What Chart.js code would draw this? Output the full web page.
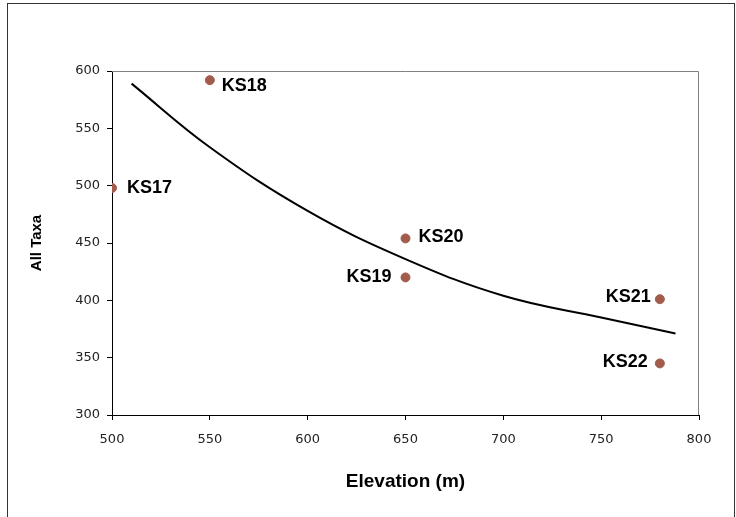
<!DOCTYPE html>
<html lang="en">
<head>
    <meta charset="UTF-8">
    <title>All Taxa vs Elevation</title>
    <script src="https://cdn.jsdelivr.net/npm/chart.js@4/dist/chart.umd.min.js"></script>
    <style>
        body {
            margin: 0;
            background-color: white;
        }
        .chart-container {
            width: 736px;
            height: 517px;
            position: relative;
        }
    </style>
</head>
<body>
    <div class="chart-container">
        <canvas id="taxaChart" width="736" height="517"></canvas>
    </div>

    <script>
        // Sites
        const siteLabels = ['KS17', 'KS18', 'KS19', 'KS20', 'KS21', 'KS22'];
        const elevation = [500, 550, 650, 650, 780, 780];
        const allTaxa = [498, 592, 420, 454, 401, 345];

        // Trend line
        const trendElevation = [510, 550, 600, 650, 700, 750, 788];
        const trendTaxa = [589, 533.5, 478, 436, 404, 385, 371];

        const xTicks = [500, 550, 600, 650, 700, 750, 800];
        const yTicks = [300, 350, 400, 450, 500, 550, 600];

        // where each site label sits relative to its point
        const labelPlacement = {
            KS17: { dx: 15, dy: 0, align: 'left' },
            KS18: { dx: 12, dy: 6, align: 'left' },
            KS19: { dx: -14, dy: 0, align: 'right' },
            KS20: { dx: 13, dy: -1, align: 'left' },
            KS21: { dx: -9, dy: -2, align: 'right' },
            KS22: { dx: -12, dy: -1, align: 'right' }
        };

        const pointColor = '#A15C4B';
        const tickFont = { family: '"DejaVu Sans", Arial, sans-serif', size: 13 };

        const frame = {
            id: 'frame',
            beforeDraw(chart) {
                const ctx = chart.ctx;
                ctx.save();
                ctx.strokeStyle = '#333';
                ctx.lineWidth = 1;
                ctx.strokeRect(7.5, 3.5, 727, 530);
                ctx.restore();
            },
            afterDraw(chart) {
                // grey top and right edges of the plot area
                const a = chart.chartArea;
                const ctx = chart.ctx;
                ctx.save();
                ctx.strokeStyle = '#808080';
                ctx.lineWidth = 1;
                ctx.beginPath();
                ctx.moveTo(a.left, a.top + 0.5);
                ctx.lineTo(a.right - 0.5, a.top + 0.5);
                ctx.lineTo(a.right - 0.5, a.bottom);
                ctx.stroke();
                ctx.restore();
            }
        };

        const siteLabelPlugin = {
            id: 'siteLabels',
            afterDatasetsDraw(chart) {
                const ctx = chart.ctx;
                ctx.save();
                ctx.font = 'bold 18px "Liberation Sans", Arial, sans-serif';
                ctx.fillStyle = '#000';
                ctx.textBaseline = 'middle';
                chart.getDatasetMeta(1).data.forEach((pt, i) => {
                    const name = siteLabels[i];
                    const p = labelPlacement[name];
                    ctx.textAlign = p.align;
                    ctx.fillText(name, pt.x + p.dx, pt.y + p.dy);
                });
                ctx.restore();
            }
        };

        const config = {
            type: 'scatter',
            data: {
                datasets: [
                    {
                        label: 'Trend',
                        data: trendElevation.map((x, i) => ({ x: x, y: trendTaxa[i] })),
                        showLine: true,
                        borderColor: '#000',
                        borderWidth: 2,
                        pointRadius: 0,
                        tension: 0.4,
                        fill: false
                    },
                    {
                        label: 'All Taxa',
                        data: elevation.map((x, i) => ({ x: x, y: allTaxa[i] })),
                        backgroundColor: pointColor,
                        borderColor: pointColor,
                        pointRadius: 4.5,
                        pointHoverRadius: 4.5
                    }
                ]
            },
            options: {
                responsive: false,
                animation: false,
                layout: {
                    padding: { left: 10, top: 71, right: 37, bottom: 0 }
                },
                plugins: {
                    legend: { display: false },
                    tooltip: { enabled: false }
                },
                scales: {
                    x: {
                        type: 'linear',
                        min: 500,
                        max: 800,
                        afterFit: (scale) => { scale.height = 102; },
                        afterBuildTicks: (scale) => { scale.ticks = xTicks.map(v => ({ value: v })); },
                        grid: {
                            drawOnChartArea: false,
                            drawTicks: true,
                            tickLength: 5,
                            color: '#000'
                        },
                        border: { color: '#000', width: 1 },
                        ticks: {
                            font: tickFont,
                            color: '#222',
                            padding: 12,
                            maxRotation: 0
                        },
                        title: {
                            display: true,
                            text: 'Elevation (m)',
                            font: { family: '"Liberation Sans", Arial, sans-serif', size: 19, weight: 'bold' },
                            color: '#000',
                            padding: { top: 0, bottom: 24 }
                        }
                    },
                    y: {
                        type: 'linear',
                        min: 300,
                        max: 600,
                        afterFit: (scale) => { scale.width = 102; },
                        afterBuildTicks: (scale) => { scale.ticks = yTicks.map(v => ({ value: v })); },
                        grid: {
                            drawOnChartArea: false,
                            drawTicks: true,
                            tickLength: 5,
                            color: '#000'
                        },
                        border: { color: '#000', width: 1 },
                        ticks: {
                            font: tickFont,
                            color: '#222',
                            padding: 7
                        },
                        title: {
                            display: true,
                            text: 'All Taxa',
                            font: { family: '"Liberation Sans", Arial, sans-serif', size: 15, weight: 'bold' },
                            color: '#000',
                            padding: { top: 18, bottom: 0 }
                        }
                    }
                }
            },
            plugins: [frame, siteLabelPlugin]
        };

        new Chart(document.getElementById('taxaChart').getContext('2d'), config);
    </script>
</body>
</html>
